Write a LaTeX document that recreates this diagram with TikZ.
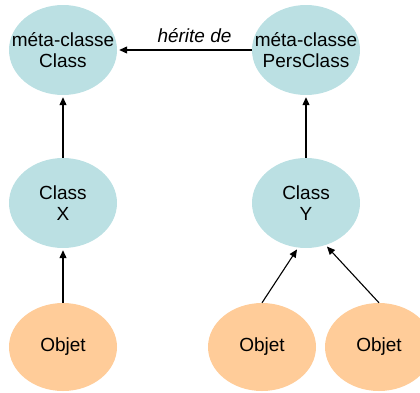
\documentclass[tikz,border=0pt]{standalone}
\usepackage{fontspec}
\setmainfont{Liberation Sans}
\usetikzlibrary{shapes.geometric,arrows.meta}
\definecolor{clsblue}{HTML}{BBE0E3}
\definecolor{objorange}{HTML}{FFCC99}
\begin{document}
\begin{tikzpicture}[x=1pt,y=-1pt,
  cls/.style={ellipse,fill=clsblue,minimum width=108pt,minimum height=90pt,inner xsep=-30pt,inner ysep=-15pt,align=center,font=\fontsize{19}{21}\selectfont},
  obj/.style={ellipse,fill=objorange,minimum width=108pt,minimum height=88pt,inner xsep=-30pt,inner ysep=-15pt,align=center,font=\fontsize{19}{21}\selectfont},
  arr/.style={-{Triangle[length=8pt,width=7pt]},line width=1.1pt,shorten >=2pt}]
\useasboundingbox (0,0) rectangle (420,392);
\begin{scope}
\clip (0,0) rectangle (420,392);
\node[cls] (mc) at (63,50) {méta-classe\\Class};
\node[cls] (mp) at (306,50) {méta-classe\\PersClass};
\node[cls] (cx) at (63,203) {Class\\X};
\node[cls] (cy) at (306,203) {Class\\Y};
\node[obj] (o1) at (63,347) {Objet};
\node[obj] (o2) at (262,347) {Objet};
\node[obj] (o3) at (379,347) {Objet};
\end{scope}
\draw[arr] (mp) -- node[above=3pt,xshift=10pt,font=\fontsize{19}{21}\selectfont\itshape] {hérite de} (mc);
\draw[arr] (cx) -- (mc);
\draw[arr] (cy) -- (mp);
\draw[arr] (o1) -- (cx);
\draw[arr] (o2.north) -- (cy.-100);
\draw[arr] (o3.north) -- (cy.-65);
\end{tikzpicture}
\end{document}
